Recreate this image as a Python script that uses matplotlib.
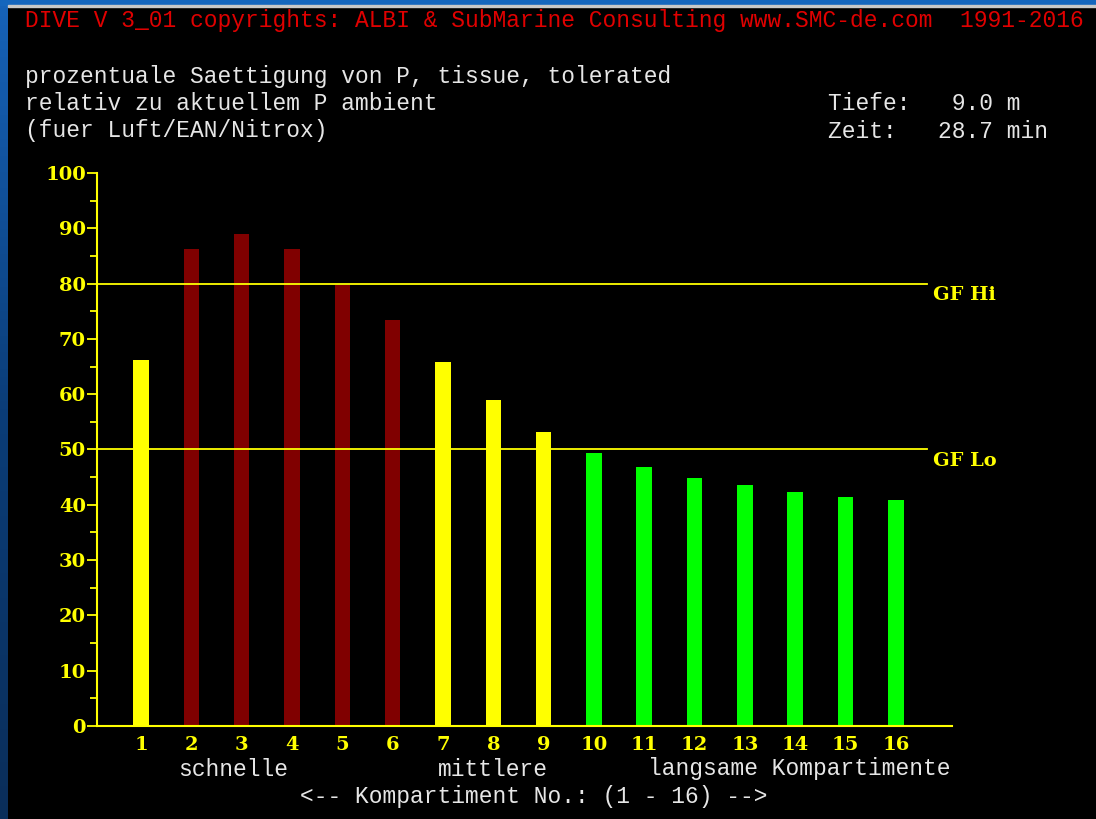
import numpy as np
import matplotlib
matplotlib.use("Agg")
import matplotlib.pyplot as plt
from matplotlib.patches import Rectangle

# Kompartimente 1..16 und prozentuale Saettigung
kompartimente = list(range(1, 17))
saettigung = [66.2, 86.3, 89.0, 86.3, 79.8, 73.4, 65.9, 59.0, 53.1,
              49.4, 46.8, 44.8, 43.6, 42.4, 41.5, 40.8]
gruppe = ["gelb", "rot", "rot", "rot", "rot", "rot", "gelb", "gelb", "gelb",
          "gruen", "gruen", "gruen", "gruen", "gruen", "gruen", "gruen"]
gf_hi = 80
gf_lo = 50
y_ticks = list(range(0, 101, 10))

farben = {"gelb": "#ffff00", "rot": "#800000", "gruen": "#00ff00"}
W, H = 1096, 819

fig = plt.figure(figsize=(W / 100, H / 100), dpi=100)
fig.patch.set_facecolor("black")

# blauer Bildschirmrand links und oben
rand = fig.add_axes([0, 0, 8 / W, 1])
grad = np.linspace(0, 1, 100).reshape(-1, 1)
rand.imshow(grad, aspect="auto", cmap=matplotlib.colors.LinearSegmentedColormap.from_list(
    "b", ["#1662b8", "#0b3d78", "#0a2e5a"]), extent=[0, 1, 0, 1], origin="upper")
rand.axis("off")
fig.patches.append(Rectangle((0, 1 - 5 / H), 1, 5 / H, transform=fig.transFigure,
                             color="#1566bd", zorder=0))
fig.patches.append(Rectangle((8 / W, 1 - 7 / H), 1, 2 / H, transform=fig.transFigure,
                             color="#c8c8c8", zorder=0))

# Diagramm
x0, x1 = 97, 952
ax = fig.add_axes([x0 / W, 1 - 726 / H, (x1 - x0) / W, (726 - 173) / H])
ax.set_facecolor("black")
pitch = 50.33
ax.set_xlim(1 - (141 - x0) / pitch, 1 + (x1 - 141) / pitch)
ax.set_ylim(0, 100)

ax.bar(kompartimente, saettigung, width=0.31,
       color=[farben[g] for g in gruppe], zorder=2)

line_end = (927 - x0) / (x1 - x0)
ax.axhline(gf_hi, xmin=0, xmax=line_end, color="#ffff00", lw=1.3, zorder=3)
ax.axhline(gf_lo, xmin=0, xmax=line_end, color="#ffff00", lw=1.3, zorder=3)

for s in ["top", "right"]:
    ax.spines[s].set_visible(False)
for s in ["left", "bottom"]:
    ax.spines[s].set_color("#ffff00")
    ax.spines[s].set_linewidth(1.5)

serif = {"family": "DejaVu Serif", "weight": "bold", "size": 14}
ax.set_yticks(y_ticks)
ax.set_yticks(range(5, 100, 10), minor=True)
ax.set_yticklabels([str(v) for v in y_ticks], fontdict=serif, color="#ffff00")
ax.tick_params(axis="y", which="major", length=7.5, width=1.3, color="#ffff00", pad=0.5)
ax.tick_params(axis="y", which="minor", length=5, width=1.3, color="#ffff00")
ax.set_xticks(kompartimente)
ax.set_xticklabels([str(k) for k in kompartimente], fontdict=serif, color="#ffff00")
ax.tick_params(axis="x", length=0, pad=7)

lab_x = (933 - x0) / (x1 - x0)
ax.text(lab_x, gf_hi - 2.1, "GF Hi", transform=ax.get_yaxis_transform(),
        ha="left", va="center", fontdict=serif, color="#ffff00")
ax.text(lab_x, gf_lo - 2.1, "GF Lo", transform=ax.get_yaxis_transform(),
        ha="left", va="center", fontdict=serif, color="#ffff00")

# Konsolentexte
mono = {"family": "Liberation Mono", "size": 16.5}


def txt(px, py, s, col="#e6e6e6"):
    fig.text(px / W, 1 - py / H, s, ha="left", va="center", color=col, fontdict=mono)


txt(25, 20, "DIVE V 3_01 copyrights: ALBI & SubMarine Consulting www.SMC-de.com  1991-2016",
    col="#e00000")
txt(25, 76, "prozentuale Saettigung von P, tissue, tolerated")
txt(25, 103, "relativ zu aktuellem P ambient")
txt(25, 131, "(fuer Luft/EAN/Nitrox)")
txt(828, 103, "Tiefe:   9.0 m")
txt(828, 131, "Zeit:   28.7 min")
txt(178, 769, "schnelle")
txt(438, 769, "mittlere")
txt(648, 769, "langsame Kompartimente")
txt(300, 797, "<-- Kompartiment No.: (1 - 16) -->")

fig.savefig("out.png", dpi=100, facecolor="black")
